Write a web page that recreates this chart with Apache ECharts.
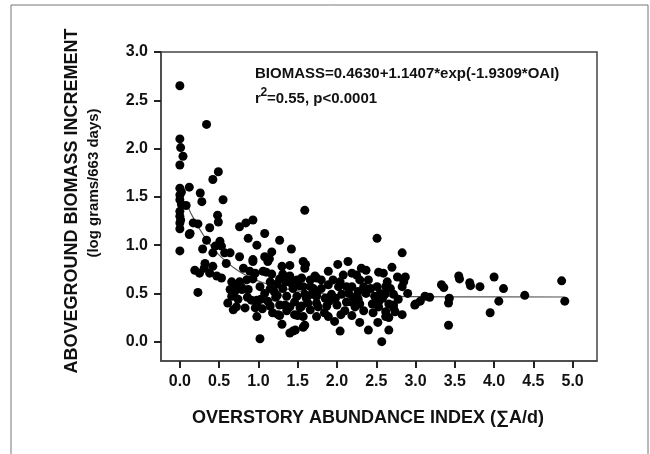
<!DOCTYPE html>
<html>
<head>
<meta charset="utf-8">
<script src="https://cdn.jsdelivr.net/npm/echarts@6/dist/echarts.min.js"></script>
<style>
  html, body { margin: 0; padding: 0; background: #fff; }
  #chart { width: 650px; height: 454px; }
</style>
</head>
<body>
<div id="chart"></div>
<script>
// tick labels
const xTicks = [0, 0.5, 1, 1.5, 2, 2.5, 3, 3.5, 4, 4.5, 5];
const yTicks = [0, 0.5, 1, 1.5, 2, 2.5, 3];

// plots: [overstory abundance index, log biomass increment]
const plots = [
  // x ~ 0
  [0.0, 2.65], [0.0, 2.10], [0.01, 2.01], [0.04, 1.92], [0.0, 1.83], [0.0, 1.59], [0.02, 1.55],
  [0.0, 1.52], [0.0, 1.47], [0.02, 1.42], [0.0, 1.35], [0.0, 1.30], [0.01, 1.26], [0.0, 1.23],
  [0.0, 1.17], [0.0, 0.94],
  // 0.05 - 0.5
  [0.34, 2.25], [0.49, 1.76], [0.42, 1.68], [0.12, 1.60], [0.26, 1.54], [0.28, 1.45], [0.55, 1.47],
  [0.08, 1.41], [0.17, 1.23], [0.23, 1.22], [0.12, 1.11], [0.38, 1.18], [0.48, 1.31], [0.49, 1.24],
  [0.29, 0.96], [0.34, 1.05], [0.45, 0.99], [0.42, 0.92], [0.19, 0.74], [0.25, 0.71], [0.32, 0.81],
  [0.31, 0.76], [0.38, 0.71], [0.42, 0.78], [0.47, 0.68], [0.23, 0.51], [0.13, 1.12],
  // 0.5 - 1.0
  [0.76, 1.19], [0.84, 1.23], [0.93, 1.26], [0.87, 1.07], [0.98, 1.00], [0.51, 1.04], [0.53, 0.99],
  [0.57, 0.92], [0.64, 0.92], [0.76, 0.88], [0.59, 0.81], [0.81, 0.76], [0.93, 0.83], [0.89, 0.73],
  [0.96, 0.71], [0.53, 0.66], [0.66, 0.62], [0.70, 0.57], [0.76, 0.62], [0.85, 0.64], [0.79, 0.54],
  [0.87, 0.54], [0.66, 0.47], [0.68, 0.33], [0.83, 0.35], [0.91, 0.43], [0.96, 0.35], [0.98, 0.26],
  [0.93, 0.85], [0.93, 0.65], [0.98, 0.43], [0.98, 0.38], [0.64, 0.54], [0.70, 0.52], [0.79, 0.56],
  [0.72, 0.36], [0.86, 0.46], [0.61, 0.40], [0.74, 0.44],
  // 1.0 - 1.8
  [1.59, 1.36], [1.08, 1.12], [1.27, 1.05], [1.42, 0.96], [1.17, 0.93], [1.08, 0.88], [1.12, 0.83],
  [1.30, 0.78], [1.40, 0.79], [1.57, 0.83], [1.60, 0.80], [1.59, 0.76], [1.06, 0.73], [1.17, 0.70],
  [1.31, 0.70], [1.40, 0.68], [1.49, 0.64], [1.66, 0.64], [1.74, 0.66], [1.15, 0.62], [1.24, 0.60],
  [1.02, 0.57], [1.31, 0.55], [1.44, 0.55], [1.57, 0.57], [1.70, 0.55], [1.08, 0.50], [1.24, 0.48],
  [1.36, 0.47], [1.49, 0.47], [1.61, 0.45], [1.74, 0.47], [1.12, 0.42], [1.27, 0.38], [1.40, 0.36],
  [1.53, 0.35], [1.66, 0.33], [1.76, 0.36], [1.25, 0.28], [1.46, 0.28], [1.57, 0.26], [1.44, 0.11],
  [1.40, 0.09], [1.57, 0.15], [1.02, 0.03], [1.14, 0.86], [1.72, 0.68], [1.80, 0.64], [1.55, 0.66],
  [1.27, 0.65], [1.41, 0.61], [1.66, 0.57], [1.15, 0.55], [1.74, 0.50], [1.59, 0.49], [1.22, 0.46],
  [1.03, 0.44], [1.74, 0.40], [1.55, 0.37], [1.34, 0.38], [1.15, 0.37], [1.74, 0.26], [1.27, 0.27],
  [1.50, 0.27], [1.59, 0.17], [1.47, 0.12], [1.10, 0.72], [1.20, 0.52], [1.35, 0.62], [1.46, 0.41],
  [1.52, 0.58], [1.63, 0.40], [1.68, 0.49], [1.80, 0.55], [1.18, 0.30], [1.30, 0.18], [1.05, 0.34],
  [1.36, 0.32],
  // 1.8 - 2.2
  [2.14, 0.83], [1.89, 0.73], [2.08, 0.69], [1.89, 0.59], [2.02, 0.57], [2.12, 0.57], [1.93, 0.49],
  [2.06, 0.49], [2.12, 0.41], [2.00, 0.38], [1.87, 0.37], [1.89, 0.26], [1.97, 0.21], [2.04, 0.11],
  [2.19, 0.71], [2.19, 0.57], [2.21, 0.46], [2.19, 0.41], [2.19, 0.27], [2.01, 0.80], [1.95, 0.64],
  [2.10, 0.32], [1.85, 0.45], [1.84, 0.30], [1.98, 0.45], [2.04, 0.62], [2.15, 0.50], [1.90, 0.42],
  [2.05, 0.28],
  // 2.2 - 3.0
  [2.51, 1.07], [2.83, 0.92], [2.70, 0.77], [2.31, 0.76], [2.37, 0.74], [2.53, 0.72], [2.59, 0.71],
  [2.25, 0.69], [2.77, 0.67], [2.87, 0.67], [2.29, 0.64], [2.40, 0.64], [2.64, 0.62], [2.85, 0.62],
  [2.51, 0.57], [2.62, 0.57], [2.83, 0.57], [2.27, 0.52], [2.37, 0.50], [2.48, 0.47], [2.55, 0.50],
  [2.61, 0.49], [2.72, 0.49], [2.99, 0.38], [2.29, 0.39], [2.45, 0.39], [2.53, 0.41], [2.66, 0.39],
  [2.72, 0.38], [2.23, 0.36], [2.53, 0.36], [2.72, 0.35], [2.34, 0.32], [2.62, 0.31], [2.74, 0.31],
  [2.83, 0.28], [2.62, 0.26], [2.66, 0.25], [2.40, 0.12], [2.66, 0.12], [2.57, 0.00], [2.27, 0.44],
  [2.34, 0.57], [2.43, 0.55], [2.46, 0.30], [2.58, 0.45], [2.68, 0.55], [2.78, 0.44], [2.90, 0.50],
  [2.29, 0.20], [2.52, 0.20],
  // 3.0 +
  [3.06, 0.42], [3.12, 0.47], [3.18, 0.46], [3.00, 0.39], [3.33, 0.59], [3.36, 0.56], [3.43, 0.45],
  [3.42, 0.40], [3.42, 0.17], [3.55, 0.68], [3.56, 0.65], [3.69, 0.61], [3.70, 0.58], [3.82, 0.57],
  [4.00, 0.67], [4.12, 0.55], [4.06, 0.42], [3.95, 0.30], [4.39, 0.48], [4.86, 0.63], [4.90, 0.42]
];

// fitted curve
const fitX = [0.08, 0.2, 0.4, 0.6, 0.8, 1.0, 1.25, 1.5, 1.75, 2.0, 2.5, 3.0, 4.0, 4.9];
const fitY = [1.440, 1.238, 0.990, 0.821, 0.706, 0.628, 0.565, 0.526, 0.502, 0.487, 0.472, 0.466, 0.4635, 0.463];

const chart = echarts.init(document.getElementById('chart'));
const font = 'Liberation Sans, Arial, sans-serif';
const frameColor = '#444';

const option = {
  animation: false,
  backgroundColor: '#fff',
  grid: {
    left: 161, right: 53, top: 52, bottom: 93,
    show: true, borderColor: frameColor, borderWidth: 1.5
  },
  xAxis: {
    type: 'value', min: -0.24, max: 5.31,
    splitLine: { show: false },
    axisLine: { show: true, onZero: false, lineStyle: { color: frameColor, width: 1.5 } },
    axisTick: { show: true, customValues: xTicks, length: 7, lineStyle: { color: '#222', width: 2 } },
    axisLabel: {
      customValues: xTicks, margin: 13,
      formatter: v => v.toFixed(1),
      fontSize: 16, fontWeight: 'bold', color: '#111', fontFamily: font
    }
  },
  yAxis: {
    type: 'value', min: -0.2, max: 3.0,
    splitLine: { show: false },
    axisLine: { show: true, onZero: false, lineStyle: { color: frameColor, width: 1.5 } },
    axisTick: { show: true, customValues: yTicks, length: 7, lineStyle: { color: '#222', width: 2 } },
    axisLabel: {
      customValues: yTicks, margin: 13,
      formatter: v => v.toFixed(1),
      fontSize: 16, fontWeight: 'bold', color: '#111', fontFamily: font
    }
  },
  graphic: [
    { type: 'rect', shape: { x: 11, y: 5, width: 637, height: 480 },
      style: { fill: 'none', stroke: '#777', lineWidth: 1 }, silent: true },
    { type: 'text', x: 72, y: 201, rotation: Math.PI / 2,
      style: { text: 'ABOVEGROUND BIOMASS INCREMENT', font: 'bold 18px ' + font, fill: '#111', align: 'center', verticalAlign: 'middle' } },
    { type: 'text', x: 94, y: 183, rotation: Math.PI / 2,
      style: { text: '(log grams/663 days)', font: 'bold 15px ' + font, fill: '#111', align: 'center', verticalAlign: 'middle' } },
    { type: 'text', x: 368, y: 418,
      style: { text: 'OVERSTORY ABUNDANCE INDEX (\u2211A/d)', font: 'bold 18px ' + font, fill: '#111', align: 'center', verticalAlign: 'middle' } },
    { type: 'text', x: 255, y: 74,
      style: { text: 'BIOMASS=0.4630+1.1407*exp(-1.9309*OAI)', font: 'bold 15px ' + font, fill: '#111', align: 'left', verticalAlign: 'middle' } },
    { type: 'text', x: 255, y: 99,
      style: { text: 'r', font: 'bold 15px ' + font, fill: '#111', align: 'left', verticalAlign: 'middle' } },
    { type: 'text', x: 260.5, y: 93,
      style: { text: '2', font: 'bold 12px ' + font, fill: '#111', align: 'left', verticalAlign: 'middle' } },
    { type: 'text', x: 267, y: 99,
      style: { text: '=0.55, p<0.0001', font: 'bold 15px ' + font, fill: '#111', align: 'left', verticalAlign: 'middle' } }
  ],
  series: [
    {
      type: 'line',
      data: fitX.map((x, i) => [x, fitY[i]]),
      smooth: true,
      symbol: 'none',
      lineStyle: { color: '#555', width: 1.2 },
      z: 1
    },
    {
      type: 'scatter',
      data: plots,
      symbolSize: 9,
      itemStyle: { color: '#000', opacity: 1 },
      z: 2
    }
  ]
};
chart.setOption(option);
</script>
</body>
</html>
